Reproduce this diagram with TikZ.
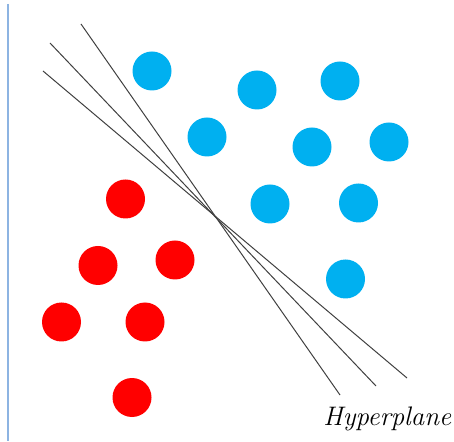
\documentclass[tikz,border=0pt]{standalone}
\usepackage{tikz}
\definecolor{SkyBlue}{RGB}{0,176,240}
\definecolor{AxisBlue}{RGB}{141,180,226}
\definecolor{LineGrey}{RGB}{64,64,64}

\begin{document}
\begin{tikzpicture}[x=0.5pt, y=-0.5pt,
        bluedot/.style={fill=SkyBlue},
        reddot/.style={fill=red},
        hyper/.style={draw=LineGrey, line width=0.5pt}]
                                \useasboundingbox (0,0) rectangle (454,442);

                                \draw[AxisBlue, line width=0.6pt] (8,4) -- (8,441);

                                \fill[bluedot] (152,71) circle (19.5);
                                \fill[bluedot] (257,90) circle (19.5);
                                \fill[bluedot] (340,81) circle (19.5);
                                \fill[bluedot] (207,137) circle (19.5);
                                \fill[bluedot] (312,147) circle (19.5);
                                \fill[bluedot] (389,142) circle (19.5);
                                \fill[bluedot] (270,204) circle (19.5);
                                \fill[bluedot] (358.5,203) circle (19.5);
                                \fill[bluedot] (345.5,279) circle (19.5);

                                \fill[reddot] (125.5,199) circle (19.5);
                                \fill[reddot] (98,265.5) circle (19.5);
                                \fill[reddot] (175,260) circle (19.5);
                                \fill[reddot] (61.5,322) circle (19.5);
                                \fill[reddot] (145,322) circle (19.5);
                                \fill[reddot] (132,397.5) circle (19.5);

                                \draw[hyper] (81,24) -- (340,395);
                                \draw[hyper] (50,43) -- (376,386);
                                \draw[hyper] (43,71) -- (407,378);

                                \node[anchor=base west, inner sep=0pt, font=\fontsize{13.4}{16}\selectfont\itshape] (label) at (323,425.5) {Hyperplane};
                            \end{tikzpicture}
\end{document}
